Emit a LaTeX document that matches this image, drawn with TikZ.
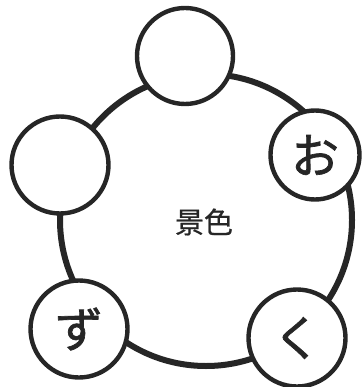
\documentclass[tikz,border=0pt]{standalone}
\usepackage{fontspec}
\newfontfamily\jpfont{Noto Sans CJK JP}[FakeBold=1.4]
\newfontfamily\jptext{Noto Sans CJK JP}[FakeBold=0.7]
\begin{document}
\begin{tikzpicture}[x=1pt,y=-1pt,
  bubble/.style={circle,draw=black!85,line width=4.4pt,fill=white,text=black!85,minimum size=#1,inner sep=0pt,font=\jpfont\fontsize{48}{48}\selectfont}]
  \useasboundingbox (0,0) rectangle (363,387);
  \coordinate (mid) at (206,220);
  \draw[line width=6pt,black!85] (mid) circle (146);
  \node[font=\jptext\fontsize{29}{29}\selectfont,text=black!85] (scene) at (204,222) {景色};
  \foreach \name/\x/\y/\d/\txt in {top/185/56/96/{},left/60/165/97/{},o/315/155/89/お,zu/79/329/97/ず,ku/297/338/97/く}
    \node[bubble=\d] (\name) at (\x,\y) {\txt};
\end{tikzpicture}
\end{document}
